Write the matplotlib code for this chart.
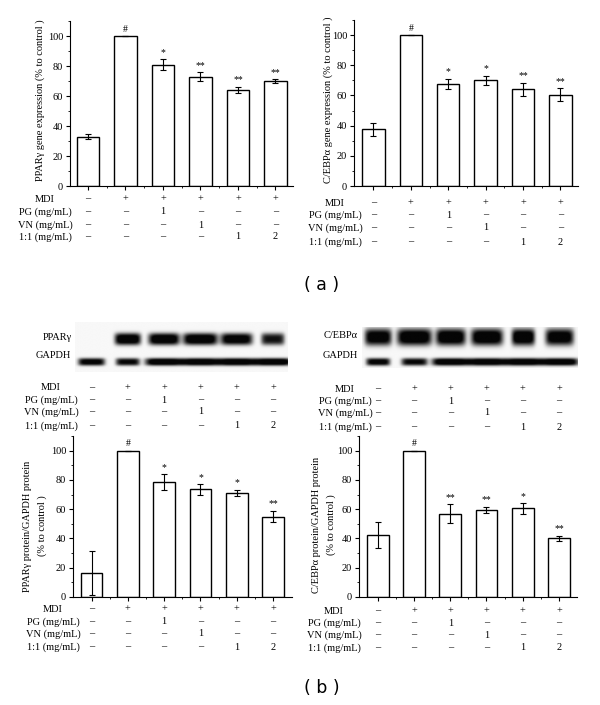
import numpy as np
import matplotlib
matplotlib.use('Agg')
import matplotlib.pyplot as plt
from matplotlib.transforms import blended_transform_factory

plt.rcParams['font.family'] = ['Liberation Serif', 'DejaVu Serif']
plt.rcParams['font.size'] = 7.5

# treatment table (same for every panel)
row_labels = ['MDI', 'PG (mg/mL)', 'VN (mg/mL)', '1:1 (mg/mL)']
mdi = ['–', '+', '+', '+', '+', '+']
pg = ['–', '–', '1', '–', '–', '–']
vn = ['–', '–', '–', '1', '–', '–']
mix = ['–', '–', '–', '–', '1', '2']
table_rows = [mdi, pg, vn, mix]

# (a) gene expression
pparg_gene = [33, 100, 81, 73, 64, 70]
pparg_gene_err = [1.8, 0, 3.5, 3.0, 2.2, 1.3]
pparg_gene_sig = ['', '#', '*', '**', '**', '**']
cebpa_gene = [37.5, 100, 67.5, 70, 64, 60.5]
cebpa_gene_err = [4.5, 0, 3.5, 3.0, 4.5, 4.3]
cebpa_gene_sig = ['', '#', '*', '*', '**', '**']

# (b) protein / GAPDH
pparg_prot = [16.5, 100, 78.5, 73.5, 71, 55]
pparg_prot_err = [15, 0, 5.5, 3.5, 2.3, 4.0]
pparg_prot_sig = ['', '#', '*', '*', '*', '**']
cebpa_prot = [42.5, 100, 57, 59.5, 60.5, 40]
cebpa_prot_err = [9, 0, 6.5, 2.2, 3.8, 2.0]
cebpa_prot_sig = ['', '#', '**', '**', '*', '**']

# western blot band strengths (darkness) and half widths per lane
pparg_band = [0.0, 1.0, 1.0, 1.0, 0.95, 0.8]
pparg_band_w = [0.3, 0.36, 0.43, 0.48, 0.44, 0.32]
gapdh_left_band = [0.9, 0.85, 1.0, 1.0, 1.0, 1.0]
gapdh_left_w = [0.37, 0.33, 0.52, 0.52, 0.52, 0.52]
cebpa_band = [0.95, 1.0, 1.0, 1.0, 1.0, 0.95]
cebpa_band_w = [0.37, 0.48, 0.41, 0.44, 0.32, 0.39]
gapdh_right_band = [0.9, 0.85, 1.0, 1.0, 1.0, 1.0]
gapdh_right_w = [0.33, 0.36, 0.52, 0.52, 0.52, 0.52]

W, H = 600, 705
fig = plt.figure(figsize=(W / 100, H / 100), dpi=100)


def rect(left, right, top, bottom):
    return [left / W, 1 - bottom / H, (right - left) / W, (bottom - top) / H]


def bar_panel(box, xlim, values, errs, sig, ylabel, label_xy):
    ax = fig.add_axes(rect(*box))
    x = np.arange(len(values))
    ax.bar(x, values, width=0.6, color='white', edgecolor='black', linewidth=1.0)
    ax.errorbar(x, values, yerr=errs, fmt='none', ecolor='black', elinewidth=0.8,
                capsize=2, capthick=0.8)
    for xi, v, e, s in zip(x, values, errs, sig):
        if s:
            ax.text(xi, v + e + 1.5, s, ha='center', va='bottom', fontsize=7)
    ax.set_xlim(*xlim)
    ax.set_ylim(0, 110)
    ax.set_yticks(np.arange(0, 101, 20))
    ax.set_yticks(np.arange(0, 111, 10), minor=True)
    ax.set_xticks(x)
    ax.set_xticks(x[:-1] + 0.5, minor=True)
    ax.set_xticklabels([])
    ax.tick_params(direction='out', length=3, width=0.8, labelsize=7.5, pad=2)
    ax.tick_params(which='minor', direction='out', length=1.5, width=0.6)
    for side in ['top', 'right']:
        ax.spines[side].set_visible(False)
    for side in ['left', 'bottom']:
        ax.spines[side].set_linewidth(0.8)
    fig.text(label_xy[0] / W, 1 - label_xy[1] / H, ylabel, rotation=90,
             ha='center', va='center', fontsize=7.5, linespacing=1.7)
    return ax


def draw_table(ax, ys, label_x):
    tr = blended_transform_factory(ax.transData, fig.transFigure)
    for label, row, y in zip(row_labels, table_rows, ys):
        fig.text(label_x / W, 1 - y / H, label, ha='center', va='center')
        for i, s in enumerate(row):
            ax.text(i, 1 - y / H, s, transform=tr, ha='center', va='center')


def blot(box, xlim, x_extent, y_extent, bands):
    ax = fig.add_axes(rect(*box))
    ax.set_xlim(*xlim)
    ax.set_ylim(box[3], box[2])
    xs = np.linspace(x_extent[0], x_extent[1], 400)
    ys = np.linspace(y_extent[0], y_extent[1], 120)
    X, Y = np.meshgrid(xs, ys)
    dark = np.zeros_like(X)
    for strengths, widths, yc, hy in bands:
        for i, (a, w) in enumerate(zip(strengths, widths)):
            dark += a * np.exp(-((X - i) / w) ** 6) * np.exp(-np.abs((Y - yc) / hy) ** 3)
    img = 0.97 - 0.95 * np.clip(dark * 1.2, 0, 1)
    ax.imshow(img, cmap='gray', vmin=0, vmax=1, aspect='auto', origin='upper',
              extent=(x_extent[0], x_extent[1], y_extent[1], y_extent[0]),
              interpolation='bilinear')
    ax.axis('off')
    return ax


# ---- panel (a)
ax1 = bar_panel((70, 293, 21, 186), (-0.48, 5.47), pparg_gene, pparg_gene_err,
                pparg_gene_sig, 'PPARγ gene expression (% to control )', (40, 100))
draw_table(ax1, [199, 212, 225, 237], 45)

ax2 = bar_panel((354, 578, 20, 186), (-0.52, 5.47), cebpa_gene, cebpa_gene_err,
                cebpa_gene_sig, 'C/EBPα gene expression (% to control )', (328, 100))
draw_table(ax2, [203, 215, 228, 242], 335)

fig.text(322 / W, 1 - 285 / H, '( a )', family='DejaVu Sans', fontsize=12.5,
         ha='center', va='center')

# ---- panel (b) blots
b1 = blot((73, 292, 318, 376), (-0.51, 5.52), (-0.45, 5.41), (322, 372),
          [(pparg_band, pparg_band_w, 339, 6.0), (gapdh_left_band, gapdh_left_w, 362, 3.8)])
fig.text(72 / W, 1 - 338 / H, 'PPARγ', ha='right', va='center')
fig.text(71 / W, 1 - 356 / H, 'GAPDH', ha='right', va='center')
draw_table(b1, [388, 400, 412, 426], 51)

b2 = blot((359, 577, 318, 376), (-0.52, 5.5), (-0.44, 5.5), (327, 368),
          [(cebpa_band, cebpa_band_w, 337, 8.5), (gapdh_right_band, gapdh_right_w, 362, 3.8)])
fig.text(358 / W, 1 - 336 / H, 'C/EBPα', ha='right', va='center')
fig.text(358 / W, 1 - 356 / H, 'GAPDH', ha='right', va='center')
draw_table(b2, [389, 401, 413, 427], 345)

# ---- panel (b) quantification
ax3 = bar_panel((73, 292, 436, 597), (-0.51, 5.52), pparg_prot, pparg_prot_err,
                pparg_prot_sig, 'PPARγ protein/GAPDH protein\n(% to control )', (35, 526))
draw_table(ax3, [609, 622, 634, 647], 53)

ax4 = bar_panel((359, 577, 436, 597), (-0.52, 5.5), cebpa_prot, cebpa_prot_err,
                cebpa_prot_sig, 'C/EBPα protein/GAPDH protein\n(% to control )', (324, 525))
draw_table(ax4, [611, 623, 635, 648], 334)

fig.text(322 / W, 1 - 688 / H, '( b )', family='DejaVu Sans', fontsize=12.5,
         ha='center', va='center')

fig.savefig('out.png', dpi=100)
